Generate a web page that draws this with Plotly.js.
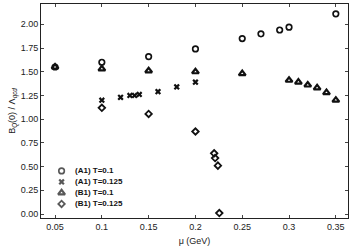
<!DOCTYPE html>
<html><head><meta charset="utf-8">
<script src="https://cdn.plot.ly/plotly-3.0.1.min.js"></script>
<style>html,body{margin:0;padding:0;background:#fff}#c{width:354px;height:251px}</style>
</head><body><div id="c"></div>
<script>
// Data
const names = ['(A1) T=0.1', '(A1) T=0.125', '(B1) T=0.1', '(B1) T=0.125'];

const muA1T01 = [0.05, 0.10, 0.15, 0.20, 0.25, 0.27, 0.29, 0.30, 0.35];
const bA1T01  = [1.55, 1.60, 1.66, 1.74, 1.85, 1.90, 1.94, 1.97, 2.11];

const muA1T0125 = [0.10, 0.12, 0.13, 0.135, 0.14, 0.16, 0.18, 0.20];
const bA1T0125  = [1.20, 1.23, 1.25, 1.25, 1.26, 1.29, 1.34, 1.39];

const muB1T01 = [0.05, 0.10, 0.15, 0.20, 0.25, 0.30, 0.31, 0.32, 0.33, 0.34, 0.35];
const bB1T01  = [1.55, 1.53, 1.51, 1.50, 1.48, 1.41, 1.39, 1.36, 1.33, 1.28, 1.20];

const muB1T0125 = [0.10, 0.15, 0.20, 0.22, 0.221, 0.224, 0.2255];
const bB1T0125  = [1.12, 1.055, 0.87, 0.64, 0.59, 0.51, 0.01];

const xTicks = [0.05, 0.10, 0.15, 0.20, 0.25, 0.30, 0.35];
const xTickText = ['0.05', '0.1', '0.15', '0.2', '0.25', '0.3', '0.35'];
const yTicks = [0, 0.25, 0.5, 0.75, 1.0, 1.25, 1.5, 1.75, 2.0];

const symbols = ['circle-open', 'x', 'triangle-up-open', 'diamond-open'];
const sizes = [5.5, 5.5, 6, 5];
const lw = [1.7, 0, 2.2, 1.8];
const xs = [muA1T01, muA1T0125, muB1T01, muB1T0125];
const ys = [bA1T01, bA1T0125, bB1T01, bB1T0125];

const traces = xs.map((x, i) => ({
  x: x, y: ys[i], name: names[i], type: 'scatter', mode: 'markers',
  marker: {symbol: symbols[i], size: sizes[i], color: '#111',
           line: {color: '#111', width: lw[i]}},
  showlegend: false, cliponaxis: false
}));

// legend keys on a hidden overlay axis spanning the plot area
const legX0 = 0.067, legY0 = 0.22, legDy = 0.0514;
traces.push({
  x: names.map(() => legX0), y: names.map((_, i) => legY0 - i * legDy),
  xaxis: 'x2', yaxis: 'y2', type: 'scatter', mode: 'markers', showlegend: false,
  hoverinfo: 'skip',
  marker: {symbol: symbols, size: sizes, color: '#111', line: {color: '#111', width: lw}}
});

const annotations = names.map((n, i) => ({
  xref: 'paper', yref: 'paper', x: 0.105, y: legY0 - i * legDy, text: '<b>' + n + '</b>',
  showarrow: false, xanchor: 'left', yanchor: 'middle',
  font: {family: 'Liberation Sans, Arial, sans-serif', size: 8, color: '#111'}
}));

const axFont = {family: 'Liberation Sans, Arial, sans-serif', size: 9, color: '#222'};
const layout = {
  width: 354, height: 251,
  margin: {l: 41, r: 6, t: 4, b: 33},
  paper_bgcolor: '#fff', plot_bgcolor: '#fff',
  font: axFont,
  showlegend: false,
  xaxis: {
    range: [0.035, 0.363], tickvals: xTicks, ticktext: xTickText,
    showgrid: false, zeroline: false, showline: true, linecolor: '#222', linewidth: 1,
    mirror: 'allticks', ticks: 'inside', ticklen: 3, tickcolor: '#444',
    tickfont: axFont,
    title: {text: 'μ (GeV)', font: axFont, standoff: 6}
  },
  yaxis: {
    range: [-0.042, 2.214], tickvals: yTicks, tickformat: '.2f',
    showgrid: false, zeroline: false, showline: true, linecolor: '#222', linewidth: 1,
    mirror: 'allticks', ticks: 'inside', ticklen: 3, tickcolor: '#444',
    tickfont: axFont,
    title: {text: 'B<sub><i>Q</i></sub>(0) / Λ<sub><i>qcd</i></sub>', font: axFont, standoff: 3}
  },
  xaxis2: {overlaying: 'x', range: [0, 1], visible: false, fixedrange: true},
  yaxis2: {overlaying: 'y', range: [0, 1], visible: false, fixedrange: true},
  annotations: annotations
};

Plotly.newPlot('c', traces, layout, {displayModeBar: false, staticPlot: true});
</script>
</body></html>
